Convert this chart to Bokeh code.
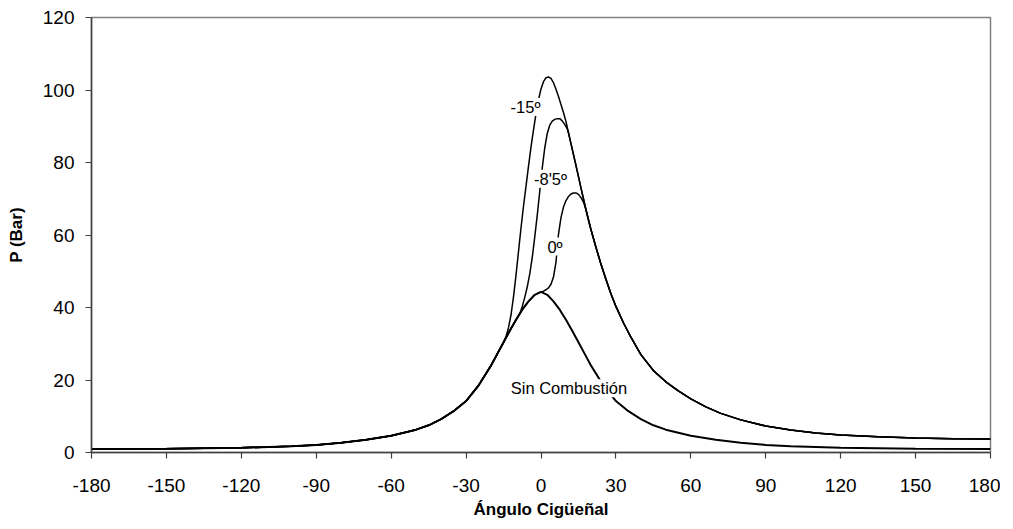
from bokeh.plotting import figure
from bokeh.models import Range1d, FixedTicker, Label
from bokeh.embed import file_html
from bokeh.resources import INLINE

# Motoring curve (Sin Combustión)
mot_ang = [-180, -150, -120, -100, -90, -80, -70, -60, -50, -45, -40, -35, -30, -25, -20, -17.5, -15, -12.5, -10,
           -7.5, -5, -2.5, 0, 2.5, 5, 7.5, 10, 12.5, 15, 17.5, 20, 25, 30, 35, 40, 45, 50, 60, 70, 80, 90, 100,
           120, 150, 180]
mot_val = [1.0, 1.05, 1.3, 1.7, 2.1, 2.7, 3.5, 4.6, 6.3, 7.5, 9.2, 11.4, 14.2, 18.5, 24.0, 27.2, 30.4, 33.6, 36.6,
           39.4, 41.7, 43.5, 44.3, 43.5, 41.7, 39.4, 36.6, 33.6, 30.4, 27.2, 24.0, 18.5, 14.2, 11.4, 9.2, 7.5, 6.3,
           4.6, 3.5, 2.7, 2.1, 1.7, 1.3, 1.05, 1.0]

# Combustion branch, ignition -15º
b15_ang = [-14, -13, -12, -11, -10, -9, -8, -7, -6, -5, -4, -3, -2, -1, 0, 1, 2, 3, 4, 5, 6, 7, 8, 9, 10]
b15_val = [32.0, 34.5, 38.0, 43.0, 49.0, 55.5, 62.0, 68.0, 73.5, 79.0, 84.3, 89.0, 93.5, 97.3, 100.3, 102.3, 103.4,
           103.6, 103.2, 102.0, 100.2, 98.2, 96.0, 93.8, 91.3]

# Combustion branch, ignition -8'5º
b85_ang = [-8.5, -7.5, -6.5, -5.5, -4.5, -3.5, -2.5, -1.5, -0.5, 0.5, 1.5, 2.5, 3.5, 4.5, 5.5, 6.5, 7.5, 8.5, 9.5,
           10.5]
b85_val = [38.3, 40.3, 42.8, 45.7, 49.3, 53.8, 59.5, 65.5, 72.0, 78.5, 84.0, 88.0, 90.3, 91.4, 91.9, 92.1, 92.1,
           91.5, 90.5, 89.3]

# Combustion branch, ignition 0º
b0_ang = [1, 2, 3, 4, 5, 6, 7, 8, 9, 10, 11, 12, 13, 14, 15, 16, 17]
b0_val = [44.5, 44.9, 45.4, 46.4, 48.4, 52.5, 60.2, 64.8, 67.7, 69.5, 70.6, 71.3, 71.6, 71.6, 71.2, 70.3, 69.1]

# Common expansion curve
com_ang = [11, 12, 13, 14, 15, 16, 17, 18, 19, 20, 22, 24, 26, 28, 30, 33, 36, 40, 45, 50, 55, 60, 66, 72, 80, 90,
           100, 110, 120, 135, 150, 165, 180]
com_val = [88.2, 85.2, 82.2, 79.2, 76.1, 73.0, 70.0, 67.0, 64.2, 61.5, 56.6, 52.0, 47.8, 43.8, 40.3, 35.8, 31.8,
           27.0, 22.6, 19.5, 17.0, 14.8, 12.6, 10.8, 9.0, 7.3, 6.2, 5.4, 4.85, 4.35, 4.0, 3.8, 3.7]

x_ticks = list(range(-180, 181, 30))
y_ticks = list(range(0, 121, 20))


def build(before_limit, inclusive, branch_a, branch_v, com_from):
    xs, ys = [], []
    for a, v in zip(mot_ang, mot_val):
        if (a <= before_limit if inclusive else a < before_limit):
            xs.append(a)
            ys.append(v)
    xs += branch_a
    ys += branch_v
    for a, v in zip(com_ang, com_val):
        if a >= com_from:
            xs.append(a)
            ys.append(v)
    return xs, ys


s15 = build(-15, True, b15_ang, b15_val, 11)
s85 = build(-8.5, False, b85_ang, b85_val, 11)
s0 = build(0, True, b0_ang, b0_val, 18)

FONT = "Liberation Sans"

p = figure(width=1000, height=521, output_backend="svg", toolbar_location=None,
           x_range=Range1d(-180, 180), y_range=Range1d(0, 120),
           min_border_left=91, min_border_right=10, min_border_top=17, min_border_bottom=67)

p.line(mot_ang, mot_val, line_color="black", line_width=2)
p.line(s0[0], s0[1], line_color="black", line_width=1.5)
p.line(s85[0], s85[1], line_color="black", line_width=1.5)
p.line(s15[0], s15[1], line_color="black", line_width=1.5)

p.grid.visible = False
p.outline_line_color = "#808080"
p.outline_line_width = 1.5
p.background_fill_color = "white"
p.border_fill_color = "white"

p.xaxis.ticker = FixedTicker(ticks=x_ticks)
p.yaxis.ticker = FixedTicker(ticks=y_ticks)
p.xaxis.major_label_overrides = {t: str(t) for t in x_ticks}
p.yaxis.major_label_overrides = {t: str(t) for t in y_ticks}
for ax in (p.xaxis[0], p.yaxis[0]):
    ax.minor_tick_line_color = None
    ax.major_tick_in = 0
    ax.major_tick_out = 6
    ax.axis_line_color = "#404040"
    ax.axis_line_width = 1.5
    ax.major_tick_line_color = "#404040"
    ax.major_tick_line_width = 1.2
    ax.major_label_text_font = FONT
    ax.major_label_text_font_size = "19px"
    ax.major_label_text_color = "black"
    ax.axis_label_text_font = FONT
    ax.axis_label_text_font_size = "17px"
    ax.axis_label_text_font_style = "bold"
    ax.axis_label_text_color = "black"

p.xaxis.axis_label = "Ángulo Cigüeñal"
p.yaxis.axis_label = "P (Bar)"
p.xaxis.major_label_standoff = 20
p.yaxis.major_label_standoff = 11
p.xaxis.axis_label_standoff = 5
p.yaxis.axis_label_standoff = 14

labels = [("-15º", -6.2, 95.3), ("-8'5º", 3.8, 75.5), ("0º", 5.6, 56.8), ("Sin Combustión", 11.2, 17.7)]
for txt, lx, ly in labels:
    p.add_layout(Label(x=lx, y=ly, text=txt, text_align="center", text_baseline="middle",
                       text_font=FONT, text_font_size="16.5px", text_color="black",
                       background_fill_color="white"))

open("out.html", "w").write(file_html(p, INLINE))
